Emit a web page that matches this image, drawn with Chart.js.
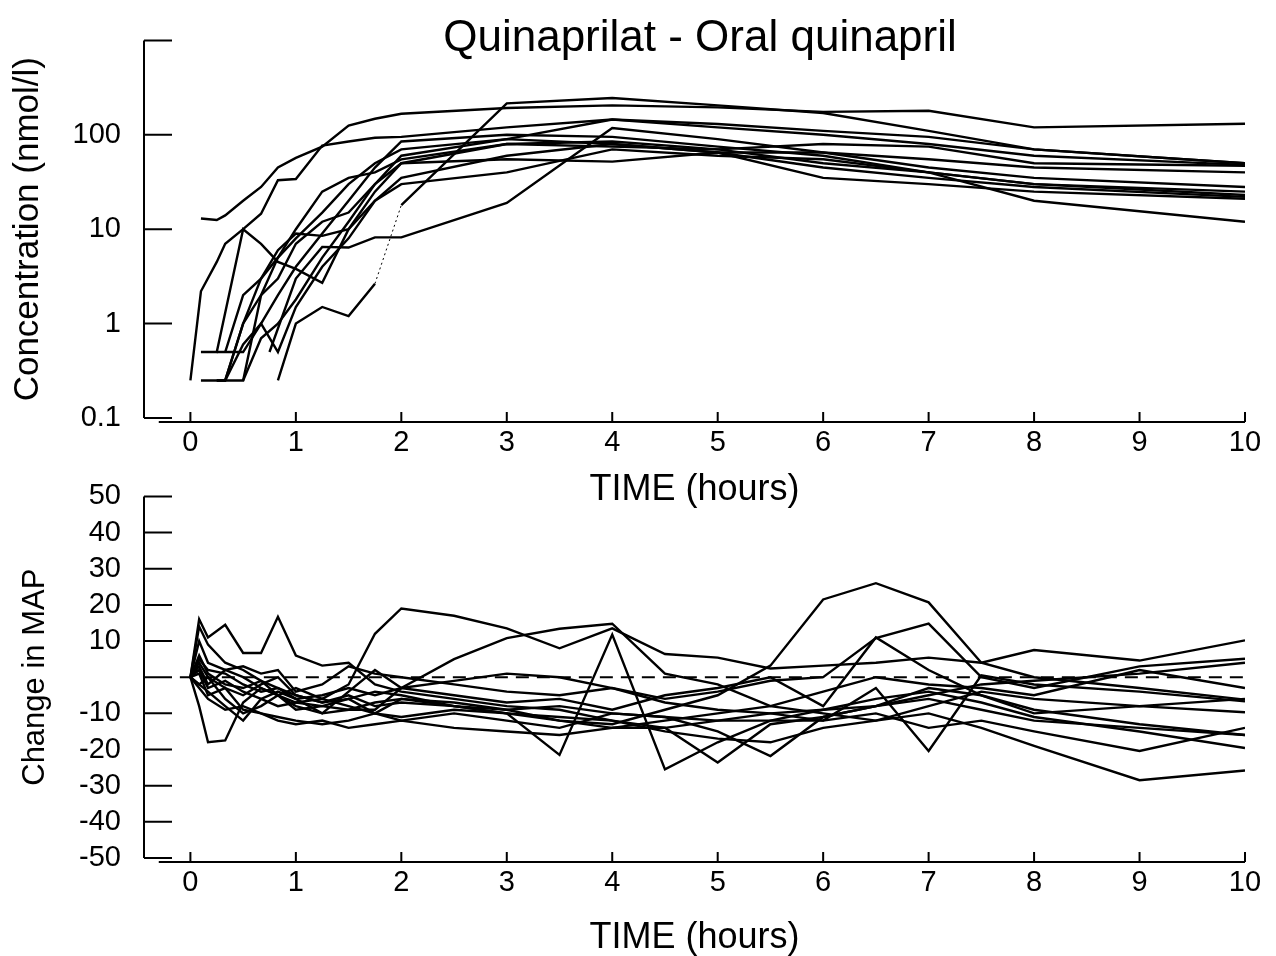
<!DOCTYPE html>
<html>
<head>
<meta charset="utf-8">
<script src="https://cdn.jsdelivr.net/npm/chart.js@4.4.0/dist/chart.umd.min.js"></script>
<style>
  html, body { margin: 0; padding: 0; background: #fff; }
  #wrap { position: relative; width: 1276px; height: 956px; overflow: hidden; }
  canvas { position: absolute; left: 0; }
</style>
</head>
<body>
<div id="wrap">
  <canvas id="conc" width="1276" height="520" style="top:0"></canvas>
  <canvas id="map" width="1276" height="500" style="top:456px"></canvas>
</div>
<script>
// sampling times (hours)
const concTimes = [0, 0.1, 0.25, 0.33, 0.5, 0.67, 0.75, 0.83, 1, 1.25, 1.5, 1.75, 2, 3, 4, 5, 6, 7, 8, 10];
const mapTimes = [0, 0.083, 0.167, 0.33, 0.5, 0.67, 0.83, 1, 1.25, 1.5, 1.75, 2, 2.5, 3, 3.5, 4, 4.5, 5, 5.5, 6, 6.5, 7, 7.5, 8, 9, 10];

// quinaprilat concentration (nmol/l), one array per subject
const conc1 = [null, 13, 12.5, 14, 20, 28, null, 45, 57, 75, 125, 148, 167, 192, 205, 195, 175, 180, 120, 131];
const conc2 = [0.25, 2.2, 4.5, 7, 10, 14.6, null, 33, 34, 77, 85, 93, 95, 120, 145, 120, 100, 80, 60, 48];
const conc3 = [null, 0.5, 0.5, null, 10, 7, null, 4.5, 3.8, 2.7, 10, 25, 50, 80, 85, 70, 50, 40, 30, 25];
const conc4 = [null, null, null, null, null, null, null, 0.25, 1, 1.5, 1.2, 2.65, 18, 215, 245, 205, 170, 110, 70, 50];
const conc5 = [null, null, null, null, null, null, 0.5, null, 3, 6.5, 6.4, 8.2, 8.2, 19, 118, 90, 65, 45, 35, 28];
const conc6 = [null, 0.25, 0.25, null, 0.25, 2, null, 5, 8, 15, 30, 50, 70, 90, 80, 65, 45, 35, 28, 22];
const conc7 = [null, null, 0.5, 0.5, 0.5, 1.0, null, 2, 4, 9, 20, 45, 85, 100, 95, 75, 60, 40, 30, 23];
const conc8 = [null, null, 0.25, 0.25, 0.6, 1.0, null, 0.5, 1.5, 4, 8, 20, 35, 60, 80, 65, 35, 30, 25, 21];
const conc9 = [null, null, null, 0.25, 1, 2, null, 3, 7, 12, 15, 30, 50, 55, 52, 65, 65, 55, 45, 40];
const conc10 = [null, null, 0.25, 0.25, 1, 3, null, 6, 9, 8.5, 10, 20, 30, 40, 70, 60, 55, 40, 20, 12];
const conc11 = [null, null, null, null, 0.25, 0.7, null, 1, 1.8, 5, 12, 30, 60, 90, 145, 130, 110, 95, 70, 50];
const conc12 = [null, null, null, 0.5, 2, 3, null, 5, 10, 25, 35, 40, 55, 80, 75, 70, 80, 75, 50, 47];

// change in mean arterial pressure, one array per subject
const map1 = [0, 16, 11, 14.5, 6.7, 6.7, 16.7, 6, 3.2, 4, -2, -4, -6, -8, -9, -12, -14, -12, -10, -9, -8, -6, -9, -12, -14, -16];
const map2 = [0, 3, -2, 2, 0, -3, -5, -3, -6, -2, 12, 19, 17, 13.5, 8, 13.5, 6.4, 5.4, 2.4, 3.2, 4, 5.4, 4, 7.5, 4.6, 10.2];
const map3 = [0, -8, -18, -17.5, -7, -3, -5, -8, -10, -9, -7, -6, -8, -10, -12, -13, -9, -5, 3.2, 21.5, 26, 20.7, 4, 0, -3, -6.2];
const map4 = [0, 5, 2, 1, -2, -4, -3, -5, -7, -6, -4, -5, -8, -10, -21.5, 11.8, -25.5, -18, -12, -9, -6, -4, -7, -11, -15, -19.6];
const map5 = [0, 2, -3, -1, -4, -6, -8, -7, -6, -8, -10, -6, -7, -9, -12, -14, -14, -23.6, -13, -11, -8, -3, -5, -9, -13, -16];
const map6 = [0, 6, 1, -2, -3, -1, -5, -9, -8, -6, -10, -12, -10, -12, -14, -10, -11, -15, -21.8, -11, -8, -5, -2, -1, 1, 4];
const map7 = [0, -3, -6, -9, -8, -10, -11, -12, -13, -12, -10, -11, -9, -10, -11, -12, -15, -17, -18, -14, -12, -10, -14, -19, -28.5, -25.8];
const map8 = [0, 10, 4, 2, 3, 1, 2, -4, -2, 3, 1, 0, -2, -4, -5, -3, -6, -4, -1, 0, 10.8, 14.8, 0, -3, 3, 5.1];
const map9 = [0, 4, 0, -3, -5, -2, 0, -5, -7, -5, -8, -7, -8, -9, -8, -10, -11, -12, -12, -12, -3, -20.4, 0.5, -2, -4, -6.7];
const map10 = [0, -2, -4, -8, -12, -6, -4, -6, -5, -3, -5, -3, -5, -7, -6, -9, -5, -3, 0, -8, 11, 2, -5, -10, -8, -9.7];
const map11 = [0, 1, -5, -3, -9, -10, -12, -13, -12, -14, -13, -12, -14, -15, -16, -14, -12, -10, -8, -4, 0, -2, -3, -5, 2, -3];
const map12 = [0, 14, 9, 4, 2, -1, -3, -6, -10, -4, 2, -3, -1, 1, 0, -3, -7, -9, -10, -12, -10, -14, -12, -15, -20.4, -14];
const map13 = [0, -2, 0, -6, -10, -8, -5, -7, -8, -9, -9, -3, 5, 10.8, 13.4, 14.8, 1, -2, -8, -10, -12, -8, -4, -6, -8, -6];

const concSeries = [conc1, conc2, conc3, conc4, conc5, conc6, conc7, conc8, conc9, conc10, conc11, conc12];
const mapSeries = [map1, map2, map3, map4, map5, map6, map7, map8, map9, map10, map11, map12, map13];

const hourTicks = [0, 1, 2, 3, 4, 5, 6, 7, 8, 9, 10];
const concTicks = [0.1, 1, 10, 100, 1000];
const mapTicks = [-50, -40, -30, -20, -10, 0, 10, 20, 30, 40, 50];

Chart.defaults.font.family = '"Liberation Sans", Arial, Helvetica, sans-serif';
Chart.defaults.color = '#000';

const toPoints = (times, vals) =>
  vals.map((v, i) => (v === null ? null : { x: times[i], y: v })).filter(p => p);

// draws the detached axes of the original plot: y axis with inward ticks,
// x axis slightly below the plot with short upward ticks
const axesPlugin = {
  id: 'axes',
  afterDraw(chart) {
    const { ctx, chartArea } = chart;
    const xs = chart.scales.x, ys = chart.scales.y;
    ctx.save();
    ctx.strokeStyle = '#000';
    ctx.lineWidth = 2;
    ctx.beginPath();
    ctx.moveTo(chartArea.left, chartArea.top);
    ctx.lineTo(chartArea.left, chartArea.bottom);
    ys.ticks.forEach(t => {
      const y = ys.getPixelForValue(t.value);
      ctx.moveTo(chartArea.left, y);
      ctx.lineTo(chartArea.left + 28, y);
    });
    const ay = chartArea.bottom + 4;
    ctx.moveTo(xs.getPixelForValue(-0.3), ay);
    ctx.lineTo(chartArea.right, ay);
    xs.ticks.forEach(t => {
      const x = xs.getPixelForValue(t.value);
      ctx.moveTo(x, ay);
      ctx.lineTo(x, ay - 10);
    });
    ctx.stroke();
    ctx.restore();
  }
};

const titlePlugin = {
  id: 'bigTitle',
  afterDraw(chart) {
    const ctx = chart.ctx;
    ctx.save();
    ctx.fillStyle = '#000';
    ctx.font = '44px "Liberation Sans", Arial, sans-serif';
    ctx.textAlign = 'center';
    ctx.textBaseline = 'alphabetic';
    ctx.fillText('Quinaprilat - Oral quinapril', 700, 51);
    ctx.restore();
  }
};

function xScale(titlePad, height) {
  return {
    type: 'linear',
    min: -0.44,
    max: 10,
    afterBuildTicks: s => { s.ticks = hourTicks.map(v => ({ value: v })); },
    afterFit: s => { s.height = height; },
    grid: { display: false, drawTicks: false },
    border: { display: false },
    ticks: { font: { size: 29 }, padding: 8, maxRotation: 0, autoSkip: false, callback: v => String(v) },
    title: { display: true, text: 'TIME (hours)', font: { size: 36, lineHeight: 1 }, padding: { top: 0, bottom: titlePad } }
  };
}

function lineSets(times, series) {
  return series.map(vals => ({
    data: toPoints(times, vals),
    borderColor: '#000',
    borderWidth: 2.4,
    pointRadius: 0,
    tension: 0,
    fill: false
  }));
}

const concSets = lineSets(concTimes, concSeries);
// the 1.75 h -> 2 h step of one subject is printed as a faint dotted stroke
concSets[3].segment = {
  borderDash: c => (c.p0.parsed.x === 1.75 ? [2, 3] : undefined),
  borderWidth: c => (c.p0.parsed.x === 1.75 ? 1 : undefined)
};

new Chart(document.getElementById('conc'), {
  type: 'line',
  data: { datasets: concSets },
  options: {
    responsive: false,
    animation: false,
    layout: { padding: { top: 40, right: 31, left: 0, bottom: 0 } },
    plugins: { legend: { display: false }, tooltip: { enabled: false } },
    scales: {
      x: xScale(12, 102),
      y: {
        type: 'logarithmic',
        min: 0.1,
        max: 1000,
        afterBuildTicks: s => { s.ticks = concTicks.map(v => ({ value: v })); },
        afterFit: s => { s.width = 144; },
        grid: { display: false, drawTicks: false },
        border: { display: false },
        ticks: { font: { size: 29 }, padding: 23, autoSkip: false, callback: v => (v === 1000 ? '' : String(v)) },
        title: { display: true, text: 'Concentration (nmol/l)', font: { size: 35, lineHeight: 1 }, padding: { top: 11, bottom: 0 } }
      }
    }
  },
  plugins: [axesPlugin, titlePlugin]
});

const mapSets = lineSets(mapTimes, mapSeries);
mapSets.push({
  data: [{ x: -0.1, y: 0 }, { x: 10, y: 0 }],
  borderColor: '#000',
  borderWidth: 2,
  borderDash: [13, 8],
  pointRadius: 0
});

new Chart(document.getElementById('map'), {
  type: 'line',
  data: { datasets: mapSets },
  options: {
    responsive: false,
    animation: false,
    layout: { padding: { top: 30, right: 31, left: 0, bottom: 0 } },
    plugins: { legend: { display: false }, tooltip: { enabled: false } },
    scales: {
      x: xScale(0, 98),
      y: {
        type: 'linear',
        min: -50,
        max: 50,
        afterBuildTicks: s => { s.ticks = mapTicks.map(v => ({ value: v })); },
        afterFit: s => { s.width = 144; },
        grid: { display: false, drawTicks: false },
        border: { display: false },
        ticks: { font: { size: 29 }, padding: 23, autoSkip: false, callback: v => (v === 0 ? '' : String(v)) },
        title: { display: true, text: 'Change in MAP', font: { size: 31, lineHeight: 1 }, padding: { top: 20, bottom: 0 } }
      }
    }
  },
  plugins: [axesPlugin]
});
</script>
</body>
</html>
